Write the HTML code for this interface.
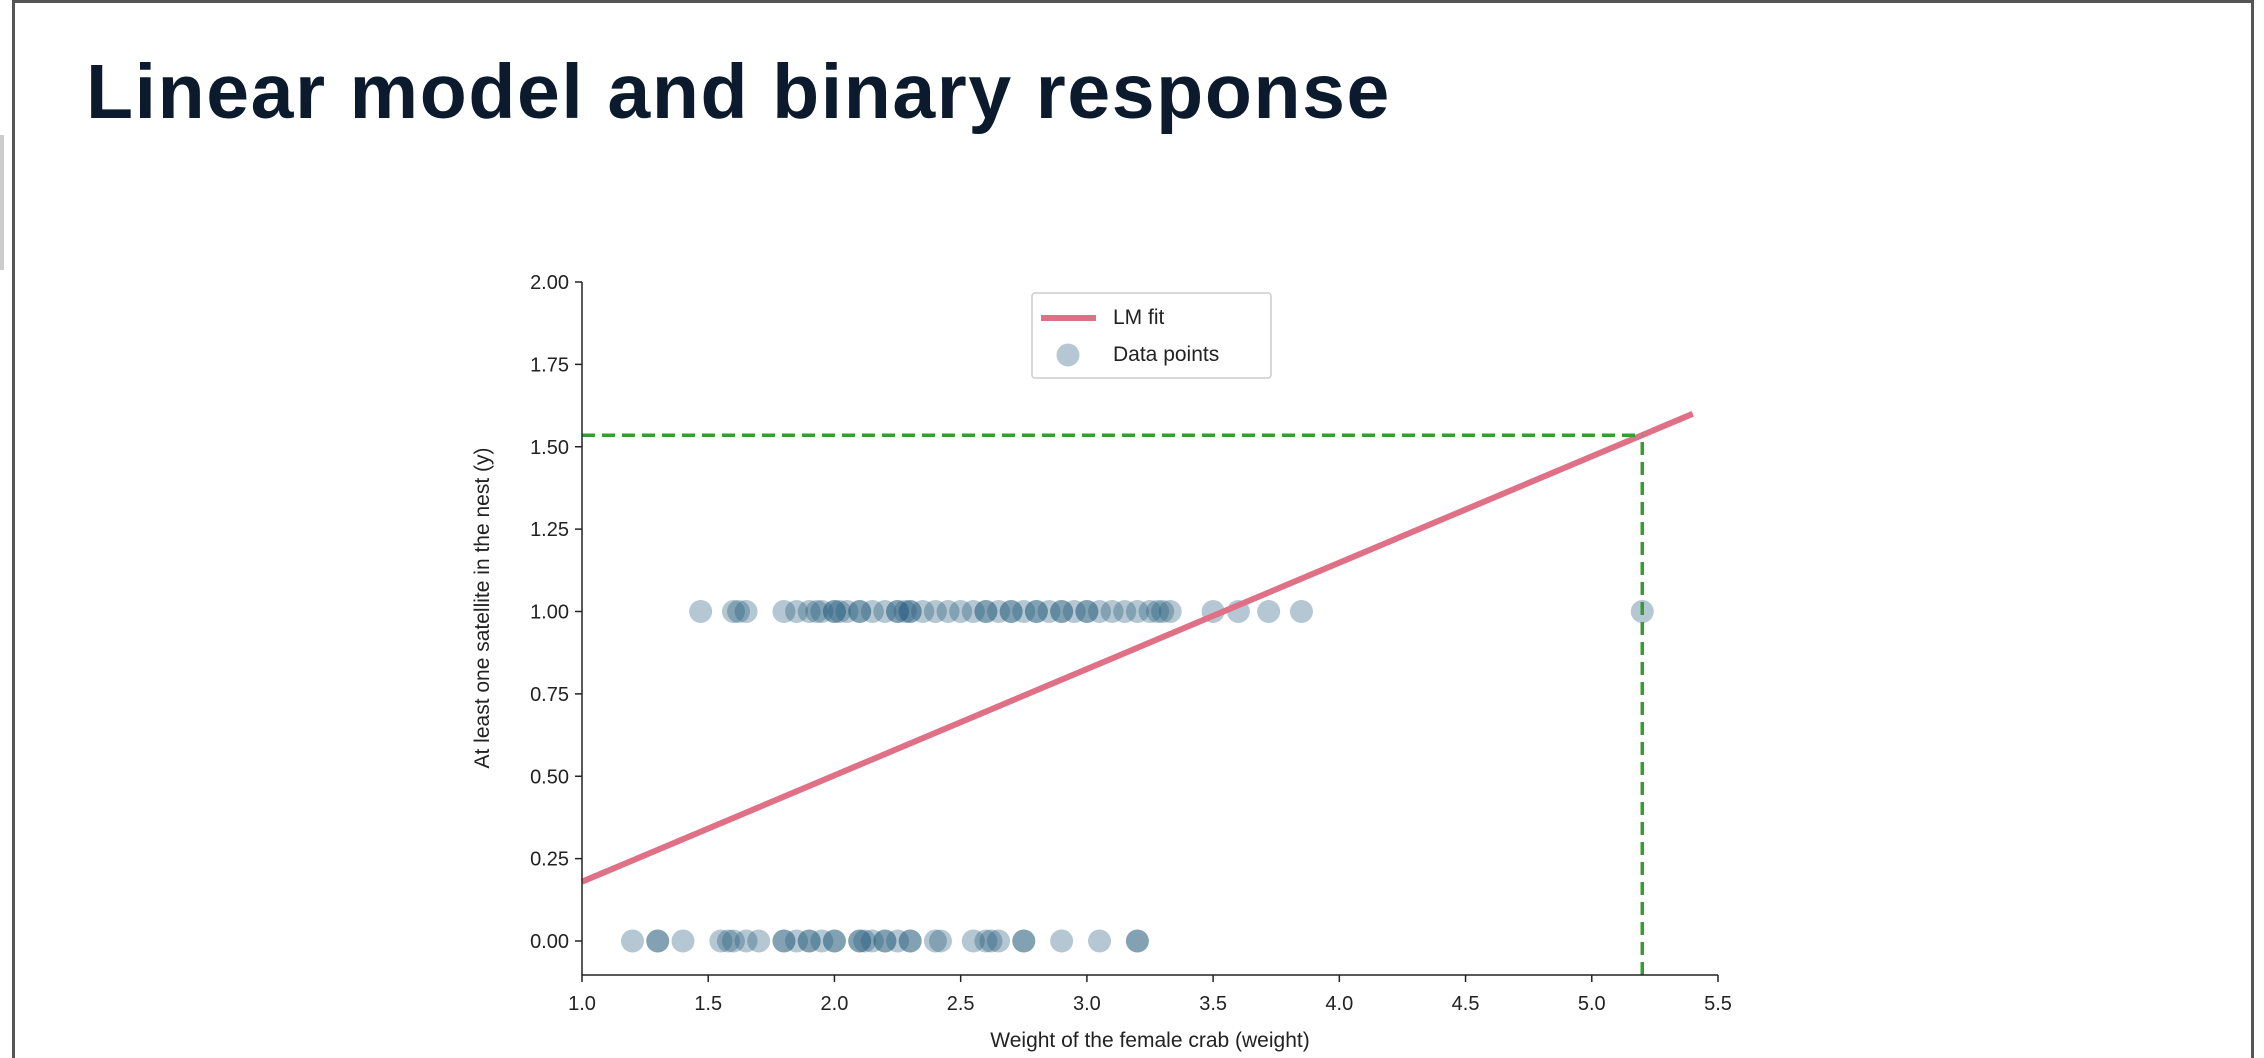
<!DOCTYPE html>
<html><head><meta charset="utf-8"><style>
body{margin:0;background:#fff;width:2264px;height:1058px;overflow:hidden;font-family:"Liberation Sans",sans-serif;}
#frame{position:absolute;left:12px;top:0;width:2242px;height:1058px;border-left:3px solid #555;border-right:3px solid #555;border-top:3px solid #555;box-sizing:border-box;}
#title{position:absolute;left:86px;top:48px;font-size:77px;font-weight:bold;color:#0b1a2c;letter-spacing:1.6px;}
</style></head><body>
<div id="frame"></div>
<div style="position:absolute;left:0;top:135px;width:4px;height:135px;background:#ccc"></div>
<div id="title">Linear model and binary response</div>
<svg id="chart" width="2264" height="1058" style="position:absolute;left:0;top:0"></svg>
<script>
const xTicks=[1.0,1.5,2.0,2.5,3.0,3.5,4.0,4.5,5.0,5.5];
const yTicks=[0.00,0.25,0.50,0.75,1.00,1.25,1.50,1.75,2.00];
const ones=[1.47,1.6,1.62,1.65,1.8,1.85,1.9,1.93,1.95,2.0,2.0,2.02,2.05,2.1,2.1,2.15,2.2,2.25,2.25,2.28,2.3,2.3,2.35,2.4,2.45,2.5,2.55,2.6,2.6,2.65,2.7,2.7,2.75,2.8,2.8,2.85,2.9,2.9,2.95,3.0,3.0,3.05,3.1,3.15,3.2,3.25,3.28,3.3,3.33,3.5,3.6,3.72,3.85,5.2];
const zeros=[1.2,1.3,1.3,1.4,1.55,1.58,1.6,1.65,1.7,1.8,1.8,1.85,1.9,1.9,1.95,2.0,2.0,2.1,2.1,2.12,2.15,2.2,2.2,2.25,2.3,2.3,2.4,2.42,2.55,2.6,2.62,2.65,2.75,2.75,2.9,3.05,3.2,3.2];
const fitX=[1.0,5.4];
const fitY=[0.18,1.60];
const predX=[5.2];
const predY=[1.535];
const NS='http://www.w3.org/2000/svg';
const svg=document.getElementById('chart');
const X=v=>582+(v-1.0)*(1718-582)/4.5;
const Y=v=>941-v*(941-282)/2;
function mk(t,a,p){const e=document.createElementNS(NS,t);for(const k in a)e.setAttribute(k,a[k]);(p||svg).appendChild(e);return e;}
ones.forEach(v=>{const c=mk('circle',{cx:X(v),cy:Y(1),r:11.5,fill:'#245a7c','fill-opacity':0.34});

});
zeros.forEach(v=>{const c=mk('circle',{cx:X(v),cy:Y(0),r:11.5,fill:'#245a7c','fill-opacity':0.34});

});
const fl=mk('line',{x1:X(fitX[0]),y1:Y(fitY[0]),x2:X(fitX[1]),y2:Y(fitY[1]),stroke:'#e07085','stroke-width':6});


const hd=mk('line',{x1:X(1.0),y1:Y(predY[0]),x2:X(predX[0]),y2:Y(predY[0]),stroke:'#3a9a35','stroke-width':3.5,'stroke-dasharray':'13,7'});


const vd=mk('line',{x1:X(predX[0]),y1:975,x2:X(predX[0]),y2:Y(predY[0]),stroke:'#3a9a35','stroke-width':3.5,'stroke-dasharray':'13,7'});


const ya=mk('line',{x1:582,y1:282,x2:582,y2:975,stroke:'#222','stroke-width':1.5});


const xa=mk('line',{x1:582,y1:975,x2:1718,y2:975,stroke:'#222','stroke-width':1.5});


xTicks.forEach(v=>{mk('line',{x1:X(v),y1:975,x2:X(v),y2:982,stroke:'#222','stroke-width':1.5});
const t=mk('text',{x:X(v),y:1010,'text-anchor':'middle','font-size':20,fill:'#222'});t.textContent=v.toFixed(1);

});
yTicks.forEach(v=>{mk('line',{x1:575,y1:Y(v),x2:582,y2:Y(v),stroke:'#222','stroke-width':1.5});
const t=mk('text',{x:569,y:Y(v)+7,'text-anchor':'end','font-size':20,fill:'#222'});t.textContent=v.toFixed(2);

});
const xl=mk('text',{x:1150,y:1047,'text-anchor':'middle','font-size':21,fill:'#222'});xl.textContent='Weight of the female crab (weight)';


const yl=mk('text',{x:0,y:0,'text-anchor':'middle','font-size':21,fill:'#222',transform:'translate(489,608) rotate(-90)'});yl.textContent='At least one satellite in the nest (y)';


const lg=mk('g',{});


mk('rect',{x:1032,y:293,width:239,height:85,rx:3,fill:'#fff',stroke:'#ccc','stroke-width':1.5},lg);
mk('line',{x1:1041,y1:318,x2:1096,y2:318,stroke:'#e07085','stroke-width':6},lg);
const t1=mk('text',{x:1113,y:324,'font-size':21,fill:'#222'},lg);t1.textContent='LM fit';
mk('circle',{cx:1068,cy:355,r:11.5,fill:'#245a7c','fill-opacity':0.34},lg);
const t2=mk('text',{x:1113,y:361,'font-size':21,fill:'#222'},lg);t2.textContent='Data points';
</script>
</body></html>
